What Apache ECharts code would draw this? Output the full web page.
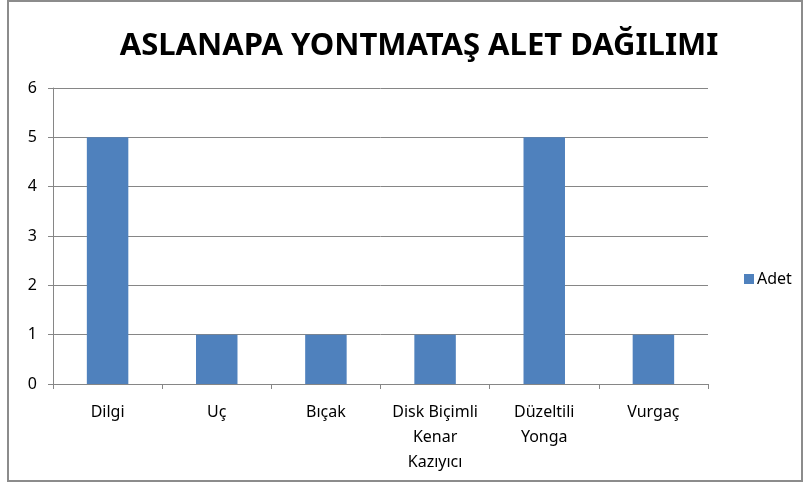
<!DOCTYPE html>
<html>
<head>
<meta charset="utf-8">
<script src="https://cdn.jsdelivr.net/npm/echarts@6/dist/echarts.min.js"></script>
<style>
  html, body { margin: 0; padding: 0; background: #fff; }
  #frame { position: absolute; left: 7px; top: 0px; width: 796px; height: 482px; border: 2px solid #8c8c8c; box-sizing: border-box; }
  #chart { position: absolute; left: 0; top: 0; width: 806px; height: 486px; }
</style>
</head>
<body>
<div id="frame"></div>
<div id="chart"></div>
<script>
// kategoriler ve adetler
const categories = ['Dilgi', 'Uç', 'Bıçak', 'Disk Biçimli\nKenar\nKazıyıcı', 'Düzeltili\nYonga', 'Vurgaç'];
const adet = [5, 1, 1, 1, 5, 1];
const yTicks = [0, 1, 2, 3, 4, 5, 6];

const font = '"Noto Sans", sans-serif';
const myChart = echarts.init(document.getElementById('chart'));
myChart.setOption({
    animation: false,
    title: {
        text: 'ASLANAPA YONTMATAŞ ALET DAĞILIMI',
        left: 414,
        textAlign: 'center',
        top: 26,
        textStyle: { fontFamily: font, fontSize: 31, fontWeight: 'bold', color: '#000' }
    },
    legend: {
        orient: 'vertical',
        left: 739,
        top: 266,
        itemWidth: 10,
        itemHeight: 10,
        itemGap: 4,
        icon: 'rect',
        textStyle: { fontFamily: font, fontSize: 16, color: '#000', padding: [0, 0, 0, -2] },
        data: ['Adet']
    },
    grid: { left: 53, right: 98, top: 88, bottom: 102 },
    xAxis: {
        type: 'category',
        data: categories,
        axisLine: { lineStyle: { color: '#868686', width: 1 } },
        axisTick: { show: true, length: 5, alignWithLabel: false, lineStyle: { color: '#868686' } },
        axisLabel: { fontFamily: font, fontSize: 16, color: '#000', margin: 16, lineHeight: 25, interval: 0 }
    },
    yAxis: {
        type: 'value',
        min: yTicks[0],
        max: yTicks[yTicks.length - 1],
        interval: 1,
        axisLine: { show: true, lineStyle: { color: '#868686' } },
        axisTick: { show: true, length: 5, lineStyle: { color: '#868686' } },
        splitLine: { lineStyle: { color: '#868686' } },
        axisLabel: { fontFamily: font, fontSize: 16, color: '#000', margin: 16 }
    },
    series: [{
        name: 'Adet',
        type: 'bar',
        data: adet,
        barWidth: '38%',
        itemStyle: { color: '#4F81BD' }
    }]
});
</script>
</body>
</html>
